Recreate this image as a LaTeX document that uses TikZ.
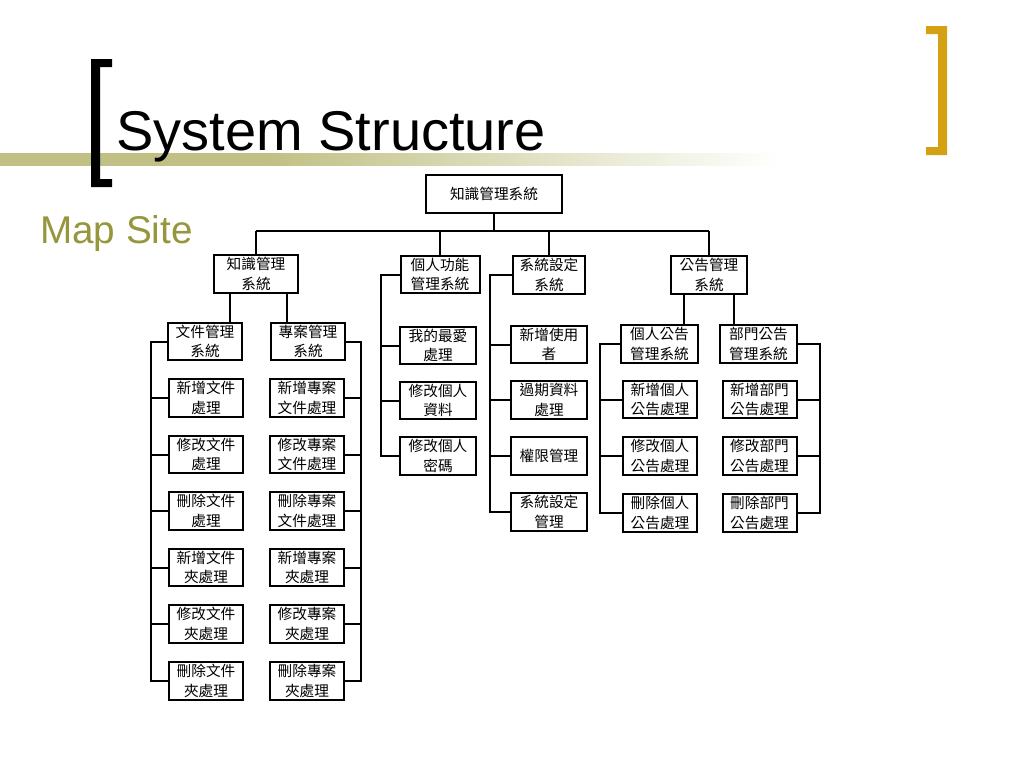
\documentclass[tikz,border=0pt]{standalone}
\usepackage{fontspec}
\setmainfont{Liberation Sans}
\newfontfamily\cjk{Noto Sans CJK TC}
\usetikzlibrary{calc}
\definecolor{olivebar}{RGB}{192,192,132}
\definecolor{olivetxt}{RGB}{150,150,60}
\definecolor{goldbr}{RGB}{212,160,20}
\pgfdeclarehorizontalshading{barfade}{100bp}{color(0bp)=(olivebar); color(25bp)=(olivebar); color(42bp)=(olivebar); color(75bp)=(white); color(100bp)=(white)}
\begin{document}
\begin{tikzpicture}[x=0.75pt,y=-0.75pt,
  bx/.style={draw, line width=1.5pt, minimum height=28pt, inner sep=0pt, align=center, font=\cjk\fontsize{11}{14.5}\selectfont},
  wa/.style={bx, minimum width=55.5pt},
  wb/.style={bx, minimum width=57pt},
  wc/.style={bx, minimum width=57.75pt},
  ln/.style={line width=1.5pt}]
\useasboundingbox (0,0) rectangle (1024,768);
\fill[white] (0,0) rectangle (1024,768);
% decoration
\shade[shading=barfade] (0,153) rectangle (780,165);
\fill[black] (91,59) -- (112,59) -- (112,67) -- (100,67) -- (100,179) -- (112,179) -- (112,187) -- (91,187) -- cycle;
\fill[goldbr] (947,26) -- (926,26) -- (926,34) -- (938,34) -- (938,147) -- (926,147) -- (926,155) -- (947,155) -- cycle;
\node[anchor=base west, font=\fontsize{42}{50}\selectfont, inner sep=0pt] (title) at (116,150) {System Structure};
\node[anchor=base west, font=\fontsize{29}{35}\selectfont, text=olivetxt, inner sep=0pt] (map) at (40,243) {Map Site};
% top
\node[bx, minimum width=102pt] (top) at (494,194) {知識管理系統};
\node[bx, minimum width=63pt] (k1) at (256,274) {知識管理\\系統};
\node[bx, minimum width=59.25pt] (k2) at (440,274.5) {個人功能\\管理系統};
\node[bx, minimum width=54pt] (k3) at (549,275) {系統設定\\系統};
\node[bx, minimum width=57pt] (k4) at (709,275) {公告管理\\系統};
\coordinate (bus) at (494,231);
\draw[ln] (top.south) -- (top.south |- bus);
\draw[ln] (k1.north |- bus) -- (k4.north |- bus);
\foreach \n in {k1,k2,k3,k4} \draw[ln] (\n.north |- bus) -- (\n.north);
% knowledge column
\node[wa] (d0) at (205,341.5) {文件管理\\系統};
\node[wa] (p0) at (308,341.5) {專案管理\\系統};
\draw[ln] ([xshift=-19.5pt]k1.south) -- ([xshift=-19.5pt]k1.south |- d0.north);
\draw[ln] ([xshift=23.25pt]k1.south) -- ([xshift=23.25pt]k1.south |- p0.north);
\node[wa] (d1) at (206,398) {新增文件\\處理};
\node[wa] (d2) at (206,454.5) {修改文件\\處理};
\node[wa] (d3) at (206,511) {刪除文件\\處理};
\node[wa] (d4) at (206,567.5) {新增文件\\夾處理};
\node[wa] (d5) at (206,624) {修改文件\\夾處理};
\node[wa] (d6) at (206,681) {刪除文件\\夾處理};
\node[wa] (p1) at (307,398) {新增專案\\文件處理};
\node[wa] (p2) at (307,454.5) {修改專案\\文件處理};
\node[wa] (p3) at (307,511) {刪除專案\\文件處理};
\node[wa] (p4) at (307,567.5) {新增專案\\夾處理};
\node[wa] (p5) at (307,624) {修改專案\\夾處理};
\node[wa] (p6) at (307,681) {刪除專案\\夾處理};
\coordinate (dl) at (151,0);
\coordinate (pr) at (361,0);
\draw[ln] (d0.west) -- (d0.west -| dl) |- (d6.west);
\draw[ln] (p0.east) -- (p0.east -| pr) |- (p6.east);
\foreach \i in {1,...,5} {
  \draw[ln] (d\i.west) -- (d\i.west -| dl);
  \draw[ln] (p\i.east) -- (p\i.east -| pr);
}
% personal column
\node[wb] (m1) at (438,345.5) {我的最愛\\處理};
\node[wb] (m2) at (438,400.5) {修改個人\\資料};
\node[wb] (m3) at (438,456) {修改個人\\密碼};
\coordinate (ml) at (381,0);
\draw[ln] (k2.west) -- (k2.west -| ml) |- (m3.west);
\foreach \i in {1,2} \draw[ln] (m\i.west) -- (m\i.west -| ml);
% settings column
\node[wb] (s1) at (549,344.5) {新增使用\\者};
\node[wb] (s2) at (549,400) {過期資料\\處理};
\node[wb] (s3) at (549,456) {權限管理};
\node[wb] (s4) at (549,512) {系統設定\\管理};
\coordinate (sl) at (490,0);
\draw[ln] (k3.west) -- (k3.west -| sl) |- (s4.west);
\foreach \i in {1,2,3} \draw[ln] (s\i.west) -- (s\i.west -| sl);
% announcement column
\node[wc] (a0) at (659.5,344) {個人公告\\管理系統};
\node[wc] (b0) at (758.5,344) {部門公告\\管理系統};
\draw[ln] ([xshift=-18.75pt]k4.south) -- ([xshift=-18.75pt]k4.south |- a0.north);
\draw[ln] ([xshift=18.75pt]k4.south) -- ([xshift=18.75pt]k4.south |- b0.north);
\node[wa] (a1) at (660,399.5) {新增個人\\公告處理};
\node[wa] (a2) at (660,456) {修改個人\\公告處理};
\node[wa] (a3) at (660,513) {刪除個人\\公告處理};
\node[wa] (b1) at (759.5,399.5) {新增部門\\公告處理};
\node[wa] (b2) at (759.5,456) {修改部門\\公告處理};
\node[wa] (b3) at (759.5,513) {刪除部門\\公告處理};
\coordinate (al) at (600,0);
\coordinate (br) at (820,0);
\draw[ln] (a0.west) -- (a0.west -| al) |- (a3.west);
\draw[ln] (b0.east) -- (b0.east -| br) |- (b3.east);
\foreach \i in {1,2} {
  \draw[ln] (a\i.west) -- (a\i.west -| al);
  \draw[ln] (b\i.east) -- (b\i.east -| br);
}
\end{tikzpicture}
\end{document}
